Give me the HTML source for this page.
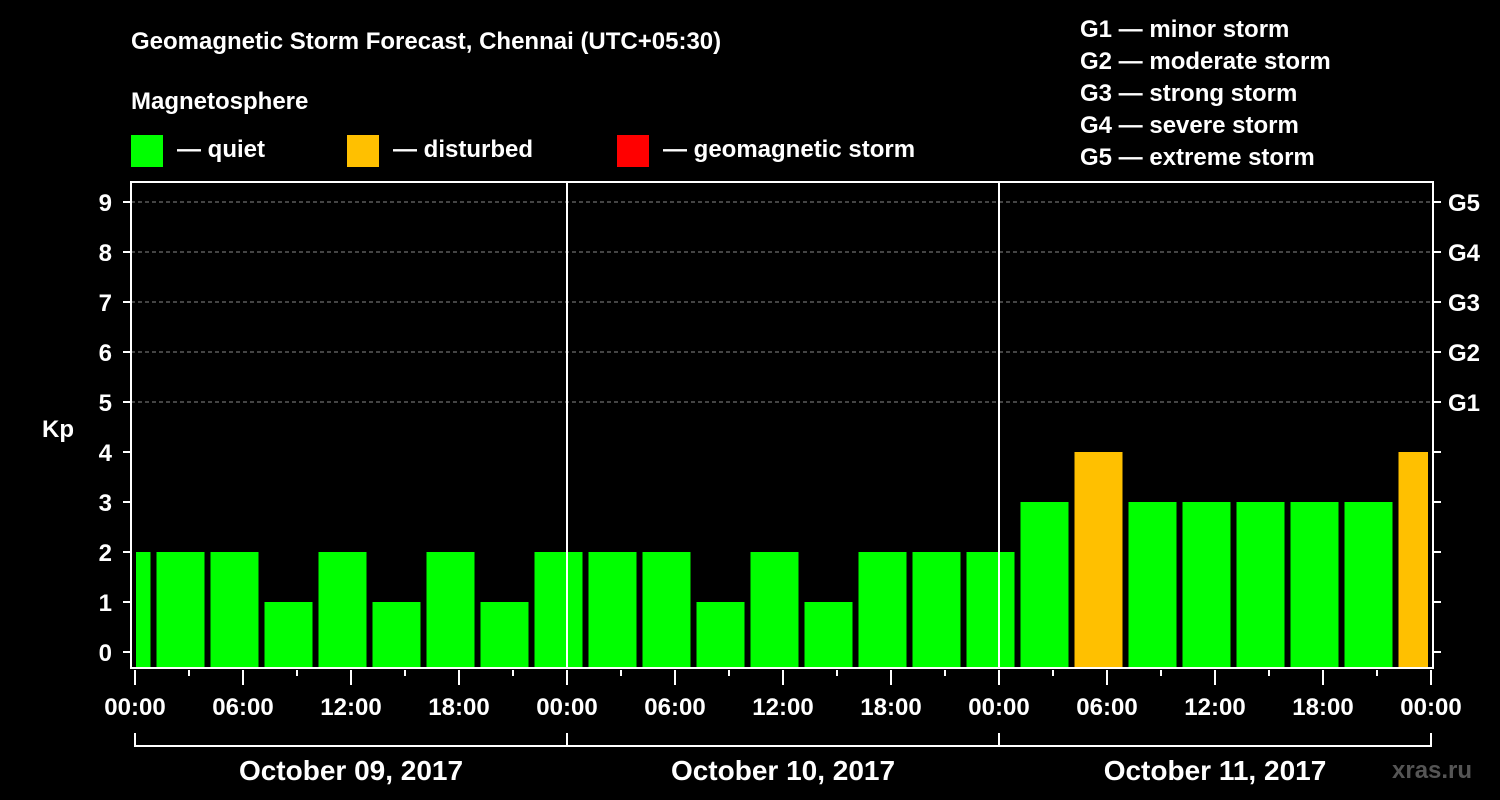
<!DOCTYPE html>
<html><head><meta charset="utf-8"><style>
body{margin:0;background:#000;}
svg{display:block;font-family:"Liberation Sans",Arial,sans-serif;font-weight:bold;}
</style></head><body>
<svg id="chart" width="1500" height="800" viewBox="0 0 1500 800">
<rect width="1500" height="800" fill="#000"/>
<g fill="#fff" font-size="24">
<text x="131" y="49">Geomagnetic Storm Forecast, Chennai (UTC+05:30)</text>
<text x="131" y="109">Magnetosphere</text>
<rect x="131" y="135" width="32" height="32" fill="#00ff00"/>
<text x="177" y="157">— quiet</text>
<rect x="347" y="135" width="32" height="32" fill="#ffc000"/>
<text x="393" y="157">— disturbed</text>
<rect x="617" y="135" width="32" height="32" fill="#ff0000"/>
<text x="663" y="157">— geomagnetic storm</text>
<text x="1080" y="37">G1 — minor storm</text>
<text x="1080" y="69">G2 — moderate storm</text>
<text x="1080" y="101">G3 — strong storm</text>
<text x="1080" y="133">G4 — severe storm</text>
<text x="1080" y="165">G5 — extreme storm</text>
<text x="42" y="437">Kp</text>
<text x="1392" y="778" fill="#555">xras.ru</text>
</g>
<g id="plot"></g>
</svg>
<script>
const kpValues=[2,2,2,1,2,1,2,1,2,2,2,1,2,1,2,2,2,3,4,3,3,3,3,3,4];
const yTicks=[0,1,2,3,4,5,6,7,8,9];
const gLabels=["G1","G2","G3","G4","G5"];
const gLevels=[5,6,7,8,9];
const hourLabels=["00:00","06:00","12:00","18:00"];
const dayLabels=["October 09, 2017","October 10, 2017","October 11, 2017"];
const NS="http://www.w3.org/2000/svg";
const g=document.getElementById('plot');
const L=131,R=1433,T=182,B=668,X0=135,PXH=18;
const y=v=>652-50*v;
const x=h=>X0+h*PXH;
function mk(tag,a,txt){const e=document.createElementNS(NS,tag);for(const k in a)e.setAttribute(k,a[k]);if(txt!=null)e.textContent=txt;g.appendChild(e);return e;}
// gridlines
gLevels.forEach((v,i)=>{
 const l=mk('line',{x1:L,x2:R,y1:y(v),y2:y(v),stroke:'#888','stroke-dasharray':'4,3','stroke-width':1});
 
 
 const t=mk('text',{x:1448,y:y(v)+9,fill:'#fff','font-size':24},gLabels[i]);
 
 
});
// bars: 3h blocks, boundaries at 02:00 offset (UTC+5:30 -> 02:30 local; drawn per screenshot)
kpValues.forEach((v,k)=>{
 let h0=-1+3*(k-1)+ (2+1/6) ; // bar start hour
 let xs=x(h0)+0.5, xe=x(h0+3)-5.5;
 xs=Math.max(xs,x(0)+1); xe=Math.min(xe,x(72)-3);
 const r=mk('rect',{x:xs,y:y(v),width:xe-xs,height:B-y(v),fill:v>=5?'#ff0000':(v>=4?'#ffc000':'#00ff00')});
 
 
});
// axes frame
const f=mk('rect',{x:L,y:T,width:R-L,height:B-T,fill:'none',stroke:'#fff','stroke-width':2});


[1,2].forEach(d=>{const l=mk('line',{x1:x(24*d),x2:x(24*d),y1:T,y2:B,stroke:'#fff','stroke-width':2});
 
 });
yTicks.forEach(v=>{
 mk('line',{x1:L-8,x2:L,y1:y(v),y2:y(v),stroke:'#fff','stroke-width':2});
 mk('line',{x1:R,x2:R+8,y1:y(v),y2:y(v),stroke:'#fff','stroke-width':2});
 const t=mk('text',{x:112,y:y(v)+9,fill:'#fff','font-size':24,'text-anchor':'end'},String(v));
 
 
});
for(let h=0;h<=72;h+=3){
 const major=h%6===0;
 mk('line',{x1:x(h),x2:x(h),y1:B+2,y2:B+(major?17:8),stroke:'#fff','stroke-width':2});
 if(major){const t=mk('text',{x:x(h),y:B+47,fill:'#fff','font-size':24,'text-anchor':'middle'},hourLabels[(h/6)%4]);
  
  }
}
mk('line',{x1:x(0),x2:x(72),y1:746,y2:746,stroke:'#fff','stroke-width':2});
for(let d=0;d<=3;d++)mk('line',{x1:x(24*d),x2:x(24*d),y1:733,y2:747,stroke:'#fff','stroke-width':2});
dayLabels.forEach((s,d)=>{const t=mk('text',{x:x(24*d+12),y:780,fill:'#fff','font-size':28,'text-anchor':'middle'},s);
 
 });
</script>
</body></html>
